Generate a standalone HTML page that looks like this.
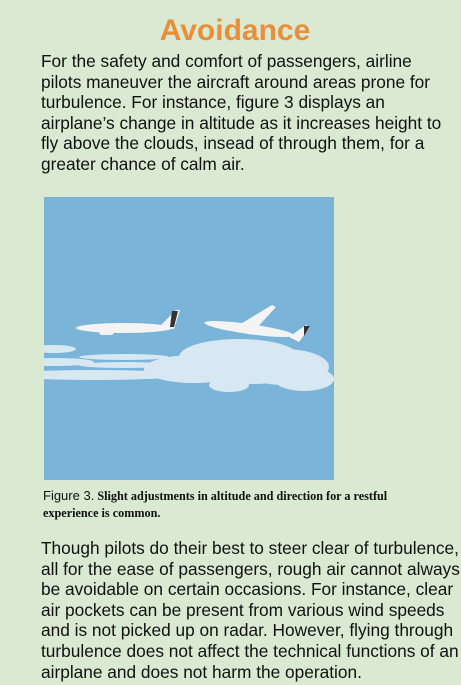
<!DOCTYPE html>
<html><head><meta charset="utf-8"><style>
body{margin:0;width:461px;height:685px;background:#d9e9d2;overflow:hidden;font-family:"Liberation Sans",sans-serif;color:#111;position:relative}
.t{position:absolute;left:0;width:470px;top:13px;text-align:center;font-size:30px;font-weight:bold;color:#e98f3c;line-height:36px}
.p{position:absolute;left:41px;font-size:17.3px;line-height:20.6px;white-space:nowrap}
.cap{position:absolute;left:43px;top:487px;font-size:12.2px;line-height:17px;font-family:"Liberation Serif",serif;font-weight:bold;white-space:nowrap}
.cap span{font-family:"Liberation Sans",sans-serif;font-weight:normal;font-size:13px}
</style></head><body>
<div class="t">Avoidance</div>
<div class="p" style="top:51px">For the safety and comfort of passengers, airline<br>pilots maneuver the aircraft around areas prone for<br>turbulence. For instance, figure 3 displays an<br>airplane’s change in altitude as it increases height to<br>fly above the clouds, insead of through them, for a<br>greater chance of calm air.</div>
<svg style="position:absolute;left:44px;top:197px" width="290" height="283">
<rect width="290" height="283" fill="#7ab5d9"/>
<g fill="#d8e8f2">
<ellipse cx="10" cy="152" rx="22" ry="4"/><ellipse cx="10" cy="165" rx="40" ry="4"/>
<ellipse cx="80" cy="160" rx="45" ry="3"/><ellipse cx="80" cy="168" rx="45" ry="3"/>
<ellipse cx="50" cy="178" rx="90" ry="5"/>
<ellipse cx="150" cy="172" rx="50" ry="14"/><ellipse cx="195" cy="160" rx="60" ry="18"/>
<ellipse cx="240" cy="170" rx="45" ry="18"/><ellipse cx="260" cy="182" rx="30" ry="12"/>
<ellipse cx="185" cy="188" rx="20" ry="7"/><ellipse cx="210" cy="175" rx="40" ry="12"/>
</g>
<g fill="#f4f4f4">
<ellipse cx="80" cy="131" rx="48" ry="5"/><polygon points="115,130 132,113 136,113 130,132"/>
<rect x="55" y="132" width="15" height="6" rx="3"/>
<ellipse cx="205" cy="132" rx="45" ry="5" transform="rotate(8 205 132)"/>
<polygon points="195,128 228,108 232,110 210,134"/><polygon points="245,140 262,128 266,130 255,145"/>
</g>
<polygon points="128,114 134,114 130,130 126,130" fill="#333"/>
<polygon points="260,129 266,129 260,139" fill="#333"/>
</svg>
<div class="cap"><span>Figure 3.</span> Slight adjustments in altitude and direction for a restful<br>experience is common.</div>
<div class="p" style="top:538px">Though pilots do their best to steer clear of turbulence,<br>all for the ease of passengers, rough air cannot always<br>be avoidable on certain occasions. For instance, clear<br>air pockets can be present from various wind speeds<br>and is not picked up on radar. However, flying through<br>turbulence does not affect the technical functions of an<br>airplane and does not harm the operation.</div>
</body></html>
